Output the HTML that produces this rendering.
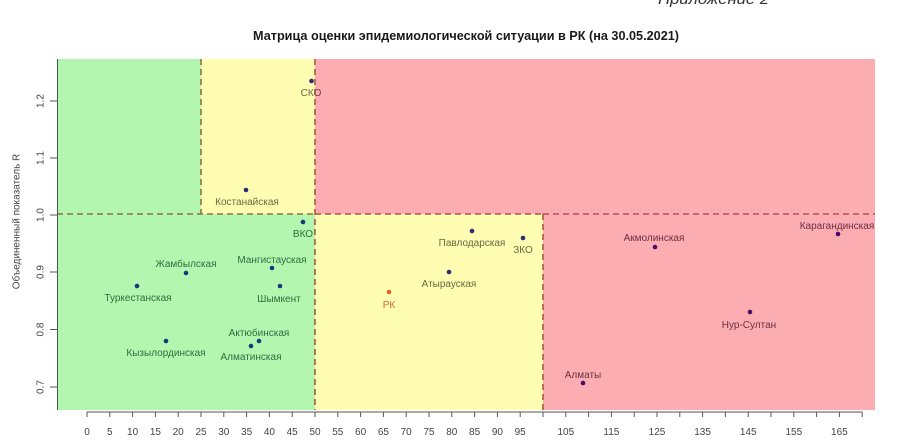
<!DOCTYPE html>
<html><head><meta charset="utf-8"><style>
html,body{margin:0;padding:0;background:#fff;width:915px;height:448px;overflow:hidden}
svg{display:block}
text{font-family:"Liberation Sans","DejaVu Sans",sans-serif}
</style></head><body>
<svg width="915" height="448" viewBox="0 0 915 448" xmlns="http://www.w3.org/2000/svg">
<defs>
<clipPath id="cy"><rect x="0" y="0" width="315" height="448"/></clipPath>
<clipPath id="cp"><rect x="315" y="0" width="600" height="448"/></clipPath>
</defs>
<!-- header -->
<text x="658" y="4" font-size="15" font-style="italic" fill="#333" textLength="111" lengthAdjust="spacingAndGlyphs">Приложение 2</text>
<text x="253" y="40" font-size="12.5" font-weight="bold" fill="#1a1a1a" textLength="426" lengthAdjust="spacingAndGlyphs">Матрица оценки эпидемиологической ситуации в РК (на 30.05.2021)</text>

<!-- regions -->
<rect x="57" y="59" width="144" height="155" fill="#b3f6af"/>
<rect x="201" y="59" width="114" height="155" fill="#fefdb2"/>
<rect x="315" y="59" width="560" height="155" fill="#fbadb1"/>
<rect x="57" y="214" width="258" height="196" fill="#b3f6af"/>
<rect x="315" y="214" width="228" height="196" fill="#fefdb2"/>
<rect x="543" y="214" width="332" height="196" fill="#fbadb1"/>

<!-- dashed lines -->
<g stroke-width="1.6" stroke-dasharray="6,4" fill="none">
<line x1="57" y1="214" x2="315" y2="214" stroke="#8f7044"/>
<line x1="315" y1="214" x2="543" y2="214" stroke="#b85048"/>
<line x1="543" y1="214" x2="875" y2="214" stroke="#c0504f"/>
<line x1="201" y1="59" x2="201" y2="214" stroke="#8f7044"/>
<line x1="315" y1="59" x2="315" y2="410" stroke="#a85a3c"/>
<line x1="543" y1="214" x2="543" y2="410" stroke="#a85a3c"/>
</g>

<!-- axes -->
<line x1="57.5" y1="59" x2="57.5" y2="410" stroke="#4a5a4a" stroke-width="1"/>
<g stroke="#555" stroke-width="1">
<line x1="87" y1="412" x2="862" y2="412"/>
<line x1="87" y1="412" x2="87" y2="417"/><line x1="109.8" y1="412" x2="109.8" y2="417"/><line x1="132.6" y1="412" x2="132.6" y2="417"/><line x1="155.4" y1="412" x2="155.4" y2="417"/><line x1="178.2" y1="412" x2="178.2" y2="417"/><line x1="201" y1="412" x2="201" y2="417"/><line x1="223.8" y1="412" x2="223.8" y2="417"/><line x1="246.6" y1="412" x2="246.6" y2="417"/><line x1="269.4" y1="412" x2="269.4" y2="417"/><line x1="292.2" y1="412" x2="292.2" y2="417"/><line x1="315" y1="412" x2="315" y2="417"/><line x1="337.8" y1="412" x2="337.8" y2="417"/><line x1="360.6" y1="412" x2="360.6" y2="417"/><line x1="383.4" y1="412" x2="383.4" y2="417"/><line x1="406.2" y1="412" x2="406.2" y2="417"/><line x1="429" y1="412" x2="429" y2="417"/><line x1="451.8" y1="412" x2="451.8" y2="417"/><line x1="474.6" y1="412" x2="474.6" y2="417"/><line x1="497.4" y1="412" x2="497.4" y2="417"/><line x1="520.2" y1="412" x2="520.2" y2="417"/><line x1="543" y1="412" x2="543" y2="417"/><line x1="565.8" y1="412" x2="565.8" y2="417"/><line x1="588.6" y1="412" x2="588.6" y2="417"/><line x1="611.4" y1="412" x2="611.4" y2="417"/><line x1="634.2" y1="412" x2="634.2" y2="417"/><line x1="657" y1="412" x2="657" y2="417"/><line x1="679.8" y1="412" x2="679.8" y2="417"/><line x1="702.6" y1="412" x2="702.6" y2="417"/><line x1="725.4" y1="412" x2="725.4" y2="417"/><line x1="748.2" y1="412" x2="748.2" y2="417"/><line x1="771" y1="412" x2="771" y2="417"/><line x1="793.8" y1="412" x2="793.8" y2="417"/><line x1="816.6" y1="412" x2="816.6" y2="417"/><line x1="839.4" y1="412" x2="839.4" y2="417"/><line x1="862.2" y1="412" x2="862.2" y2="417"/>
<line x1="50" y1="101" x2="57" y2="101"/><line x1="50" y1="158" x2="57" y2="158"/><line x1="50" y1="215" x2="57" y2="215"/><line x1="50" y1="272" x2="57" y2="272"/><line x1="50" y1="329.5" x2="57" y2="329.5"/><line x1="50" y1="387" x2="57" y2="387"/>
</g>
<g font-size="10" fill="#444" text-anchor="middle">
<text x="87" y="435">0</text><text x="109.8" y="435">5</text><text x="132.6" y="435">10</text><text x="155.4" y="435">15</text><text x="178.2" y="435">20</text><text x="201" y="435">25</text><text x="223.8" y="435">30</text><text x="246.6" y="435">35</text><text x="269.4" y="435">40</text><text x="292.2" y="435">45</text><text x="315" y="435">50</text><text x="337.8" y="435">55</text><text x="360.6" y="435">60</text><text x="383.4" y="435">65</text><text x="406.2" y="435">70</text><text x="429" y="435">75</text><text x="451.8" y="435">80</text><text x="474.6" y="435">85</text><text x="497.4" y="435">90</text><text x="520.2" y="435">95</text>
<text x="565.8" y="435">105</text><text x="611.4" y="435">115</text><text x="657" y="435">125</text><text x="702.6" y="435">135</text><text x="748.2" y="435">145</text><text x="793.8" y="435">155</text><text x="839.4" y="435">165</text>
<text transform="rotate(-90 43.5 101)" x="43.5" y="101">1.2</text>
<text transform="rotate(-90 43.5 158)" x="43.5" y="158">1.1</text>
<text transform="rotate(-90 43.5 215)" x="43.5" y="215">1.0</text>
<text transform="rotate(-90 43.5 272)" x="43.5" y="272">0.9</text>
<text transform="rotate(-90 43.5 329.5)" x="43.5" y="329.5">0.8</text>
<text transform="rotate(-90 43.5 387)" x="43.5" y="387">0.7</text>
<text transform="rotate(-90 19.5 221.5)" x="19.5" y="221.5">Объединенный показатель R</text>
</g>

<!-- points -->
<g fill="#173a7a">
<circle cx="303" cy="222" r="2.3"/><circle cx="186" cy="273" r="2.3"/><circle cx="137" cy="286" r="2.3"/><circle cx="272" cy="268" r="2.3"/><circle cx="280" cy="286" r="2.3"/><circle cx="259" cy="341" r="2.3"/><circle cx="251" cy="346" r="2.3"/><circle cx="166" cy="341" r="2.3"/>
</g>
<g fill="#2a2a78">
<circle cx="311.5" cy="81" r="2.3"/><circle cx="246" cy="190" r="2.3"/><circle cx="472" cy="231" r="2.3"/><circle cx="523" cy="238" r="2.3"/><circle cx="449" cy="272" r="2.3"/>
</g>
<circle cx="389" cy="292" r="2.3" fill="#e2602a"/>
<g fill="#4a0a6a">
<circle cx="655" cy="247" r="2.3"/><circle cx="838" cy="234" r="2.3"/><circle cx="750" cy="312" r="2.3"/><circle cx="583" cy="383" r="2.3"/>
</g>

<!-- labels -->
<g font-size="10" text-anchor="middle">
<g fill="#2e6e3e">
<text x="303" y="237">ВКО</text>
<text x="186" y="267">Жамбылская</text>
<text x="138" y="301">Туркестанская</text>
<text x="272" y="263">Мангистауская</text>
<text x="279" y="302">Шымкент</text>
<text x="259" y="336">Актюбинская</text>
<text x="251" y="360">Алматинская</text>
<text x="166" y="356">Кызылординская</text>
</g>
<g fill="#6a6a40">
<text x="311" y="96" clip-path="url(#cy)">СКО</text>
<text x="247" y="205">Костанайская</text>
<text x="472" y="246">Павлодарская</text>
<text x="523" y="253">ЗКО</text>
<text x="449" y="287">Атырауская</text>
</g>
<text x="311" y="96" fill="#7a3a48" clip-path="url(#cp)">СКО</text>
<text x="389" y="308" fill="#d0683a">РК</text>
<g fill="#6e3040">
<text x="654" y="241">Акмолинская</text>
<text x="837" y="229">Карагандинская</text>
<text x="749" y="328">Нур-Султан</text>
<text x="583" y="378">Алматы</text>
</g>
</g>
</svg>
</body></html>
